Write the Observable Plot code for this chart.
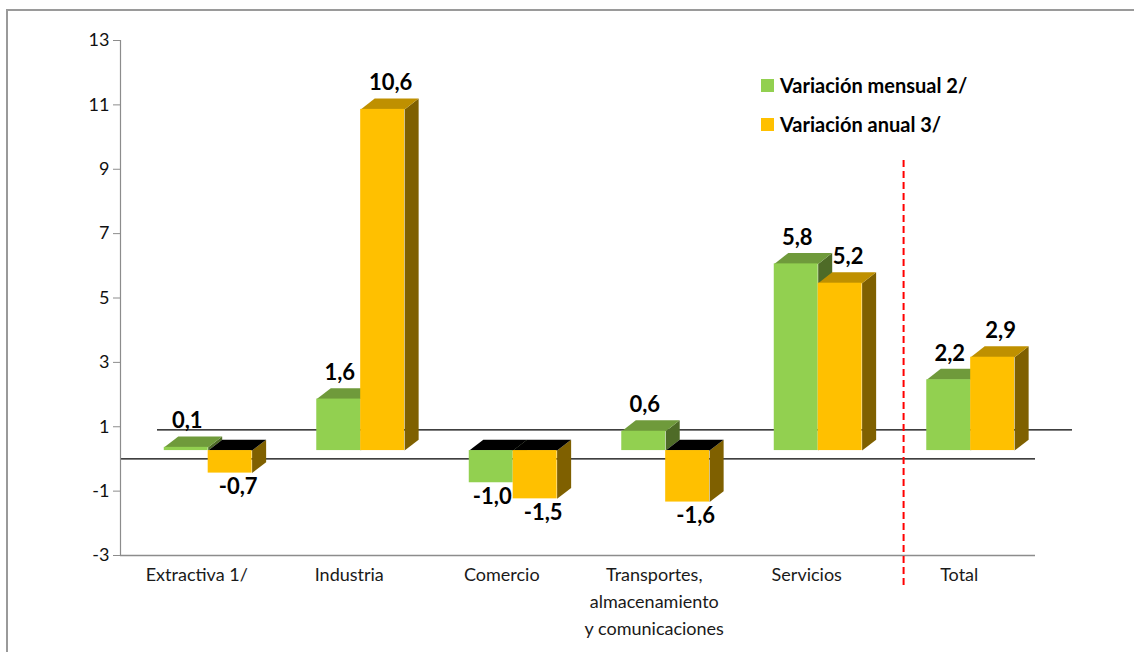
<!DOCTYPE html>
<html>
<head>
<meta charset="utf-8">
<script src="https://cdn.jsdelivr.net/npm/d3@7"></script>
<script src="https://cdn.jsdelivr.net/npm/@observablehq/plot@0.6"></script>
<style>
  html, body { margin: 0; padding: 0; background: #fff; overflow: hidden; }
  #wrap { position: relative; width: 1134px; height: 652px; font-family: Lato, sans-serif; }
  #border { position: absolute; left: 6px; top: 9px; width: 1300px; height: 800px;
            border-left: 2px solid #9a9a9a; border-top: 2px solid #9a9a9a; }
  #chart { position: absolute; left: 0; top: 0; }
  .leg { position: absolute; left: 761px; height: 24px; display: flex; align-items: center;
         font: bold 20px Lato, sans-serif; color: #000; white-space: nowrap; }
  .sw { width: 13px; height: 13px; margin-right: 6px; }
</style>
</head>
<body>
<div id="wrap">
  <div id="border"></div>
  <div id="chart"></div>
</div>
<script>
// ---- data ----
const categories = ["Extractiva 1/", "Industria", "Comercio",
  "Transportes,\nalmacenamiento\ny comunicaciones", "Servicios", "Total"];
const mensual = [0.1, 1.6, -1.0, 0.6, 5.8, 2.2];
const anual = [-0.7, 10.6, -1.5, -1.6, 5.2, 2.9];
const seriesNames = ["Variación mensual 2/", "Variación anual 3/"];
const yTicks = [-3, -1, 1, 3, 5, 7, 9, 11, 13];

// ---- style ----
const palette = [
  {front: "#92D050", top: "#6F9A3B", side: "#4E6B27", labelDx: 1},
  {front: "#FFC000", top: "#BF9000", side: "#7F6000", labelDx: 8}
];
const base = 0.26, barW = 0.288, split = 0.075, depX = 0.092, depY = 0.34;
const floorX = 0.2426, floorY = 0.90, sepX = 4.635;

const fmt = v => v.toFixed(1).replace(".", ",");

const bars = [];
[mensual, anual].forEach((vals, s) => vals.forEach((v, i) => {
  const x1 = i + split + (s === 0 ? -barW : 0);
  bars.push({s, i, v, x1, x2: x1 + barW, y1: base, y2: base + v});
}));

function sidePoly(b) {
  const lo = Math.min(b.y1, b.y2), hi = Math.max(b.y1, b.y2), id = `side${b.s}-${b.i}`;
  return [
    {id, x: b.x2, y: lo}, {id, x: b.x2, y: hi},
    {id, x: b.x2 + depX, y: hi + depY}, {id, x: b.x2 + depX, y: lo + depY}
  ];
}
function topPoly(b) {
  const t = Math.max(b.y1, b.y2), id = `top${b.s}-${b.i}`;
  return [
    {id, x: b.x1, y: t}, {id, x: b.x2, y: t},
    {id, x: b.x2 + depX, y: t + depY}, {id, x: b.x1 + depX, y: t + depY}
  ];
}

const marks = [
  Plot.ruleY([floorY], {x1: -0.5 + floorX, x2: 5.5 + floorX, stroke: "#000", strokeWidth: 1.3}),
  Plot.ruleY([0], {stroke: "#000", strokeWidth: 1.3}),
  Plot.ruleX([-0.5], {stroke: "#8c8c8c", strokeWidth: 1.2}),
  Plot.ruleY([-3], {stroke: "#8c8c8c", strokeWidth: 1.5})
];

[0, 1].forEach(s => {
  const bs = bars.filter(b => b.s === s);
  const c = palette[s];
  marks.push(
    Plot.line(bs.flatMap(sidePoly), {x: "x", y: "y", z: "id", fill: c.side, stroke: "none"}),
    Plot.line(bs.filter(b => b.v >= 0).flatMap(topPoly), {x: "x", y: "y", z: "id", fill: c.top, stroke: "none"}),
    Plot.line(bs.filter(b => b.v < 0).flatMap(topPoly), {x: "x", y: "y", z: "id", fill: "#000", stroke: "none"}),
    Plot.rect(bs, {x1: "x1", x2: "x2", y1: "y1", y2: "y2", fill: c.front})
  );
});

marks.push(
  Plot.ruleX([sepX], {y1: 9.27, y2: -4.03, stroke: "#FF0000", strokeWidth: 2, strokeDasharray: "7,4"})
);

[0, 1].forEach(s => {
  const bs = bars.filter(b => b.s === s);
  const common = {x: d => (d.x1 + d.x2) / 2, y: "y2", text: d => fmt(d.v),
    dx: palette[s].labelDx, fontSize: 22, fontWeight: "bold", fill: "#000"};
  marks.push(
    Plot.text(bs, {...common, filter: d => d.v >= 0, dy: -26}),
    Plot.text(bs, {...common, filter: d => d.v < 0, dy: 14})
  );
});

marks.push(
  Plot.text(categories, {x: (d, i) => i, text: d => d, frameAnchor: "bottom", lineAnchor: "top",
    dy: 7, fontSize: 18, lineHeight: 1.48, fill: "#1a1a1a"}),
  Plot.axisY({ticks: yTicks, tickFormat: d => String(d), tickSize: 7, tickPadding: 4,
    fontSize: 18, stroke: "#8c8c8c", fill: "#111", label: null})
);

const chart = Plot.plot({
  width: 1134,
  height: 652,
  marginTop: 40,
  marginBottom: 97,
  marginLeft: 120,
  marginRight: 99,
  x: {domain: [-0.5, 5.5], axis: null},
  y: {domain: [-3, 13]},
  style: {fontFamily: "Lato, sans-serif", background: "transparent", overflow: "visible"},
  marks
});
document.getElementById("chart").appendChild(chart);

// legend
const wrap = document.getElementById("wrap");
seriesNames.forEach((name, s) => {
  const row = document.createElement("div");
  row.className = "leg";
  row.style.top = (73 + s * 39) + "px";
  const sw = document.createElement("div");
  sw.className = "sw";
  sw.style.background = palette[s].front;
  const t = document.createElement("span");
  t.textContent = name;
  row.appendChild(sw);
  row.appendChild(t);
  wrap.appendChild(row);
});
</script>
</body>
</html>
